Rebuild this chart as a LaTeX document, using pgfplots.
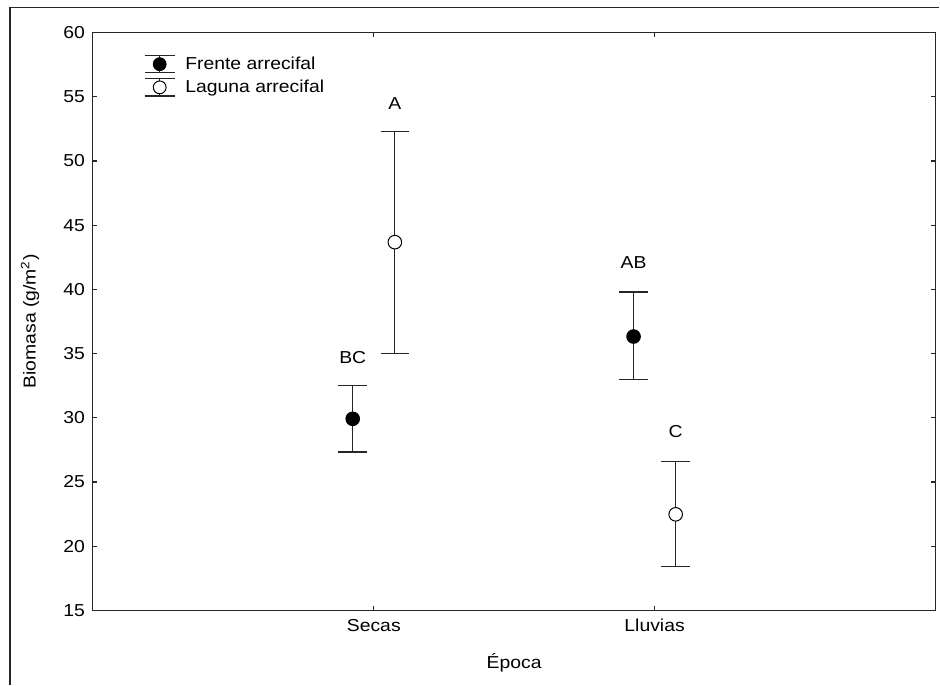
\documentclass[border=0pt]{standalone}
\usepackage{fontspec}
\setmainfont{Liberation Sans}[FakeStretch=1.12]
\usepackage{pgfplots}
\pgfplotsset{compat=1.18}
\pgfplotstableread{
x y ep em
0.925 29.92 2.60 2.59
1.925 36.33 3.46 3.34
}\frente
\pgfplotstableread{
x y ep em
1.075 43.68 8.64 8.69
2.075 22.48 4.12 4.05
}\laguna
\begin{document}
\fontsize{17.3}{21}\selectfont
\begin{tikzpicture}
\begin{axis}[
  scale only axis, width=843pt, height=578pt,
  xmin=0, xmax=3, ymin=15, ymax=60,
  xtick={1,2}, xticklabels={Secas,Lluvias},
  ytick={15,20,...,60},
  tick align=inside, major tick length=4pt,
  axis line style={line width=1.1pt, black!85},
  every tick/.style={black!85, line width=1.1pt},
  /pgf/number format/assume math mode=true,
  ticklabel style={font=\fontsize{17.3}{21}\selectfont},
  xticklabel style={yshift=-3pt},
  yticklabel style={xshift=-2pt},
  xlabel={Época}, ylabel={Biomasa (g/m\textsuperscript{2})},
  every axis x label/.style={at={(axis description cs:0.5,0)}, yshift=-52pt, anchor=center},
  every axis y label/.style={at={(axis description cs:0,0.5)}, xshift=-63pt, rotate=90, anchor=center},
  legend style={at={(axis description cs:0,1)}, anchor=north west, xshift=51pt, yshift=-22pt,
    draw=none, fill=none, inner sep=0pt, row sep=4.6pt, column sep=10pt,
    nodes={inner sep=0pt, anchor=west, font=\fontsize{17.3}{21}\selectfont}},
  legend cell align=left,
]
\addplot[only marks, black, mark=*, mark size=6.8pt, mark options={line width=1pt, fill=black},
  legend image code/.code={
    \draw[line width=1.2pt, black!85] (0pt,-8.7pt) -- (30pt,-8.7pt) (0pt,8.7pt) -- (30pt,8.7pt) (15pt,-8.7pt) -- (15pt,8.7pt);
    \filldraw[line width=1pt, fill=black, draw=black] (15pt,0pt) circle (6.4pt);},
  error bars/.cd, y dir=both, y explicit,
  error bar style={line width=1.3pt, black!85},
  error mark options={rotate=90, line width=1.3pt, black!85, mark size=14.3pt}]
  table[x=x, y=y, y error plus=ep, y error minus=em] {\frente};
\addlegendentry{Frente arrecifal}
\addplot[only marks, black, mark=*, mark size=6.8pt, mark options={line width=1pt, fill=white},
  legend image code/.code={
    \draw[line width=1.2pt, black!85] (0pt,-8.7pt) -- (30pt,-8.7pt) (0pt,8.7pt) -- (30pt,8.7pt) (15pt,-8.7pt) -- (15pt,8.7pt);
    \filldraw[line width=1pt, fill=white, draw=black] (15pt,0pt) circle (6.4pt);},
  error bars/.cd, y dir=both, y explicit,
  error bar style={line width=1.3pt, black!85},
  error mark options={rotate=90, line width=1.3pt, black!85, mark size=14.3pt}]
  table[x=x, y=y, y error plus=ep, y error minus=em] {\laguna};
\addlegendentry{Laguna arrecifal}
\node at (axis cs:1.075,54.45) {A};
\node at (axis cs:0.925,34.7) {BC};
\node at (axis cs:1.925,42.1) {AB};
\node at (axis cs:2.075,28.9) {C};
\end{axis}
\draw[line width=1.1pt, black!85] (-83pt,-74.3pt) -- (-83pt,603.4pt) -- (847pt,603.4pt);
\path (-93pt,-74.3pt) rectangle (847pt,610.7pt);
\end{tikzpicture}
\end{document}
